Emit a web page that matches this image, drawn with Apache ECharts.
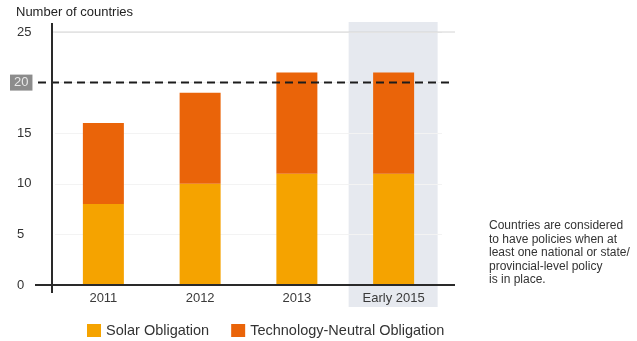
<!DOCTYPE html>
<html>
<head>
<meta charset="utf-8">
<script src="https://cdn.jsdelivr.net/npm/echarts@6/dist/echarts.min.js"></script>
<style>
  html, body { margin: 0; padding: 0; background: #fff; }
  #chart { width: 637px; height: 341px; }
</style>
</head>
<body>
<div id="chart"></div>
<script>
// Countries with solar / technology-neutral obligation policies
const years = ['2011', '2012', '2013', 'Early 2015'];
const solarObligation = [8, 10, 11, 11];
const techNeutralObligation = [8, 9, 10, 10];
const yTicks = [0, 5, 10, 15, 20, 25];
const referenceLevel = 20;
const noteLines = [
  'Countries are considered',
  'to have policies when at',
  'least one national or state/',
  'provincial-level policy',
  'is in place.'
];

const FONT = '"Liberation Sans", Arial, sans-serif';
const SOLAR = '#f5a300';
const TECH = '#ea6409';

const chart = echarts.init(document.getElementById('chart'), null, { renderer: 'canvas' });

const option = {
  animation: false,
  backgroundColor: '#ffffff',
  textStyle: { fontFamily: FONT },
  grid: { left: 55, right: 195, top: 32, bottom: 56, containLabel: false },
  title: {
    text: 'Number of countries',
    left: 16, top: 6, padding: 0,
    textStyle: { fontSize: 13, fontWeight: 'normal', color: '#222', fontFamily: FONT }
  },
  legend: {
    left: 87, top: 323, padding: 0,
    itemWidth: 14, itemHeight: 13, itemGap: 22,
    icon: 'rect',
    textStyle: { fontSize: 14.5, color: '#333', fontFamily: FONT },
    data: ['Solar Obligation', 'Technology-Neutral Obligation']
  },
  xAxis: {
    type: 'category',
    data: years,
    axisLine: { show: false },
    axisTick: { show: false },
    axisLabel: { color: '#3a3a3a', fontSize: 13, margin: 7, fontFamily: FONT }
  },
  yAxis: {
    type: 'value',
    min: 0, max: 25, interval: 5,
    offset: 3,
    axisLine: { show: false },
    axisTick: { show: false },
    splitLine: { show: true, lineStyle: { color: '#f3f3f3', width: 1 } },
    axisLabel: {
      margin: 35,
      align: 'left',
      color: '#333',
      fontSize: 13,
      fontFamily: FONT,
      // the reference level gets its own boxed label below
      formatter: v => (v === referenceLevel || !yTicks.includes(v) ? '' : String(v))
    }
  },
  series: [
    {
      name: 'Solar Obligation',
      type: 'bar',
      stack: 'total',
      barWidth: 41,
      itemStyle: { color: SOLAR },
      data: solarObligation,
      z: 3
    },
    {
      name: 'Technology-Neutral Obligation',
      type: 'bar',
      stack: 'total',
      barWidth: 41,
      itemStyle: { color: TECH },
      data: techNeutralObligation,
      z: 3
    }
  ]
};

chart.setOption(option);

// Decorations positioned from the chart's own scales
const yPix = v => chart.convertToPixel({ yAxisIndex: 0 }, v);
const xPix = c => chart.convertToPixel({ xAxisIndex: 0 }, c);
const y0 = yPix(0), y20 = yPix(referenceLevel), y25 = yPix(25);
const axisX = 52, rightX = 455;
const xLast = xPix(years[years.length - 1]);

const graphics = [
  // highlight column behind the latest year
  { type: 'rect', z: -10, silent: true,
    shape: { x: xLast - 45, y: y25 - 10, width: 89, height: (y0 - y25) + 32 },
    style: { fill: '#e6e9ef' } },
  // top reference line
  { type: 'line', z: 1, silent: true,
    shape: { x1: axisX, y1: y25, x2: rightX, y2: y25 },
    style: { stroke: '#d4d4d4', lineWidth: 1 } },
  // dashed 20-country line
  { type: 'line', z: 10, silent: true,
    shape: { x1: 38, y1: y20, x2: rightX - 2, y2: y20 },
    style: { stroke: '#1c1c1c', lineWidth: 2, lineDash: [8, 5] } },
  // boxed label for the reference level
  { type: 'text', z: 10, silent: true,
    style: { x: 10, y: y20, text: String(referenceLevel), fill: '#e8e8e8',
             font: '13px ' + FONT, verticalAlign: 'middle',
             backgroundColor: '#8c8c8c', padding: [2, 4, 1, 4] } },
  // y axis line
  { type: 'line', z: 10, silent: true,
    shape: { x1: axisX, y1: y25 - 9, x2: axisX, y2: y0 + 8 },
    style: { stroke: '#2a2a2a', lineWidth: 2 } },
  // x axis line
  { type: 'line', z: 10, silent: true,
    shape: { x1: 35, y1: y0, x2: rightX, y2: y0 },
    style: { stroke: '#2a2a2a', lineWidth: 2 } },
  // side note
  { type: 'text', z: 10, silent: true,
    style: { x: 489, y: 219, text: noteLines.join('\n'), fill: '#333',
             font: '12px ' + FONT, lineHeight: 13.5 } }
];

chart.setOption({ graphic: graphics });
</script>
</body>
</html>
